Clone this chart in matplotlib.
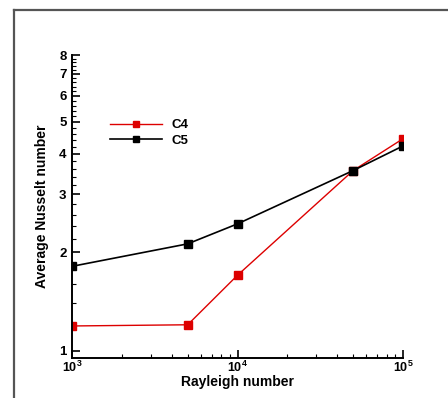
import matplotlib
matplotlib.use("Agg")
import matplotlib.pyplot as plt
from matplotlib.ticker import FixedLocator, NullFormatter, LogLocator
import numpy as np

plt.rcParams['font.family'] = ['Liberation Sans', 'DejaVu Sans']
plt.rcParams['mathtext.fontset'] = 'custom'
plt.rcParams['mathtext.rm'] = 'Liberation Sans:bold'
plt.rcParams['mathtext.bf'] = 'Liberation Sans:bold'

# data
rayleigh = [1e3, 5e3, 1e4, 5e4, 1e5]
nu_c4 = [1.19, 1.20, 1.70, 3.55, 4.44]
nu_c5 = [1.81, 2.12, 2.44, 3.55, 4.22]
y_major = [1, 2, 3, 4, 5, 6, 7, 8]
x_major = [1e3, 1e4, 1e5]
x_labels = [r'$\mathrm{10^{3}}$', r'$\mathrm{10^{4}}$', r'$\mathrm{10^{5}}$']

fig = plt.figure(figsize=(4.48, 3.98), dpi=100)
ax = fig.add_axes([72/448, 1-358/398, (403-72)/448, (358-55)/398])

ax.plot(rayleigh, nu_c4, color='#dd0000', lw=1.0, marker='s', ms=5.8,
        mec='#dd0000', mfc='#dd0000', label='C4')
ax.plot(rayleigh, nu_c5, color='black', lw=1.2, marker='s', ms=5.8,
        mec='black', mfc='black', label='C5')

ax.set_xscale('log')
ax.set_yscale('log')
ax.set_xlim(1e3, 1e5)
ax.set_ylim(0.95, 8)

ax.spines['top'].set_visible(False)
ax.spines['right'].set_visible(False)
ax.spines['left'].set_linewidth(1.4)
ax.spines['bottom'].set_linewidth(1.4)

ax.yaxis.set_major_locator(FixedLocator(y_major))
ax.set_yticklabels([str(v) for v in y_major])
ax.yaxis.set_minor_locator(FixedLocator(np.arange(1.0, 8.0, 0.2)))
ax.yaxis.set_minor_formatter(NullFormatter())
ax.xaxis.set_major_locator(FixedLocator(x_major))
ax.set_xticklabels(x_labels)
ax.xaxis.set_minor_locator(LogLocator(base=10, subs=np.arange(2, 10)))
ax.xaxis.set_minor_formatter(NullFormatter())

ax.tick_params(axis='y', which='major', direction='in', length=6, width=1.2,
               labelsize=9.5, pad=4)
ax.tick_params(axis='x', which='major', direction='in', length=6, width=1.2,
               labelsize=9, pad=1)
ax.tick_params(which='minor', direction='in', length=3, width=0.8)
for lb in ax.get_yticklabels():
    lb.set_fontweight('bold')

ax.set_xlabel('Rayleigh number', fontsize=10, fontweight='bold', labelpad=0)
ax.set_ylabel('Average Nusselt number', fontsize=10, fontweight='bold', labelpad=7)

ax.legend(loc='upper left', bbox_to_anchor=(0.08, 0.828), frameon=False,
          prop={'weight': 'bold', 'size': 9.5}, markerscale=0.8,
          handlelength=3.9, handletextpad=0.75, labelspacing=0.25)

# outer frame (clipped at right and bottom)
fig.add_artist(plt.Line2D([14/448, 14/448], [0, 1-10/398], color='#555555', lw=1.6))
fig.add_artist(plt.Line2D([14/448, 1], [1-10/398, 1-10/398], color='#555555', lw=1.6))

fig.savefig('out.png', dpi=100)
